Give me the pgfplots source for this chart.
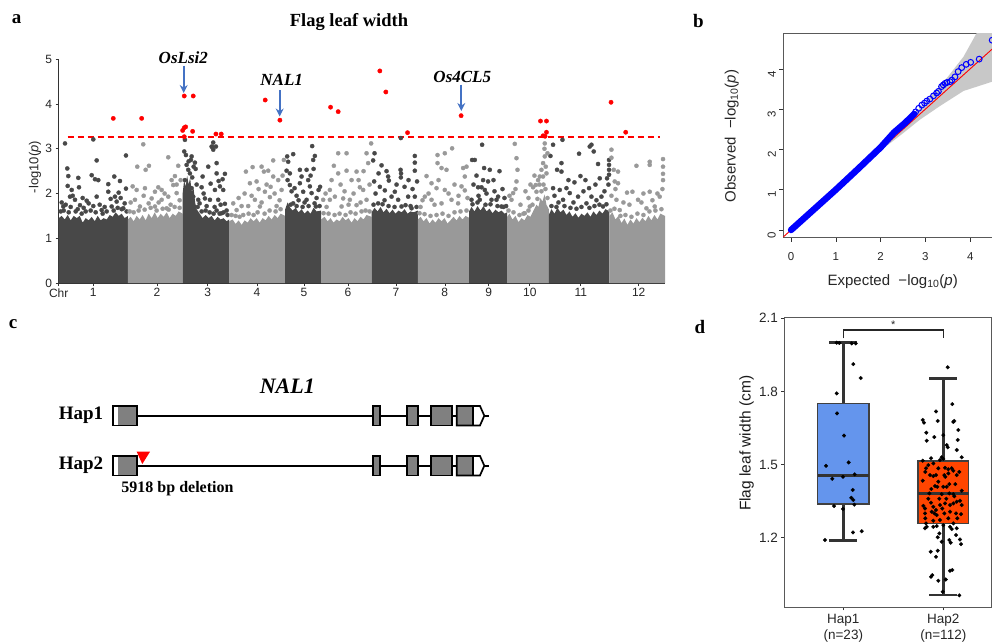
\documentclass[border=0pt]{standalone}
\usepackage{pgfplots}
\pgfplotsset{compat=1.18}
\usetikzlibrary{arrows.meta}
\usepackage{fontspec}
\setmainfont{Liberation Sans}
\newfontfamily\tnr{Liberation Serif}
\definecolor{dk}{RGB}{72,72,72}
\definecolor{lt}{RGB}{153,153,153}
\definecolor{arr}{RGB}{68,114,196}
\definecolor{hapblue}{RGB}{100,149,237}
\definecolor{haporange}{RGB}{255,69,0}
\definecolor{band}{RGB}{200,200,200}
\definecolor{exon}{RGB}{128,128,128}
\definecolor{sigred}{RGB}{255,0,0}

% one haplotype row of the gene model: #1 centre, #2 top, #3 bottom (pixel y)
\newcommand{\generow}[3]{%
    \draw[line width=1.8pt] (axis cs:137,#1) -- (axis cs:489,#1);
    \fill[white] (axis cs:113.3,#2) rectangle (axis cs:118.3,#3);
    \fill[exon] (axis cs:118.3,#2) rectangle (axis cs:137,#3);
    \draw[line width=1.7pt] (axis cs:113.3,#2) rectangle (axis cs:137,#3);
    \draw[line width=1.7pt, fill=exon] (axis cs:373.3,#2) rectangle (axis cs:380.3,#3);
    \draw[line width=1.7pt, fill=exon] (axis cs:407.3,#2) rectangle (axis cs:418.3,#3);
    \draw[line width=1.7pt, fill=exon] (axis cs:431,#2) rectangle (axis cs:451.7,#3);
    \fill[white] (axis cs:473.3,#2) -- (axis cs:480,#2) -- (axis cs:484.3,#1) -- (axis cs:480,#3) -- (axis cs:473.3,#3) -- cycle;
    \fill[exon] (axis cs:456.7,#2) rectangle (axis cs:473.3,#3);
    \draw[line width=1.7pt, line join=miter] (axis cs:456.7,#2) -- (axis cs:480,#2) -- (axis cs:484.3,#1) -- (axis cs:480,#3) -- (axis cs:456.7,#3) -- cycle;
    \draw[line width=1.7pt] (axis cs:473.3,#2) -- (axis cs:473.3,#3);
}

\pgfplotsset{
  dkdot/.style={only marks, mark=*, mark size=2.1pt, mark options={solid, fill=dk, draw=dk, line width=0.3pt}},
  ltdot/.style={only marks, mark=*, mark size=2.1pt, mark options={solid, fill=lt, draw=lt, line width=0.3pt}},
  whisk/.style={draw=black!80, line width=2.7pt},
}

\begin{document}
\begin{tikzpicture}
\useasboundingbox (0,0) rectangle (992pt,-643pt);

% ---------- a: Manhattan plot (x = cumulative position, 12 chromosomes)
\begin{axis}[at={(58.7pt,-283pt)}, anchor=south west, scale only axis,
    width=606.3pt, height=223.7pt,
    xmin=0, xmax=606.6, ymin=0, ymax=5, enlargelimits=false,
    axis x line*=bottom, axis y line*=left,
    axis line style={black!80, line width=0.6pt},
    tick align=outside, major tick length=3pt,
    tick style={black!80, line width=0.6pt},
    xtick={0,34.6,98.3,149,198.3,245.3,289.3,337.3,386.3,430.3,471.3,522.3,580.3},
    xticklabels={Chr,1,2,3,4,5,6,7,8,9,10,11,12},
    ytick={0,1,2,3,4,5},
    /pgf/number format/assume math mode=true,
    tick label style={font=\fontsize{12}{12}\selectfont, text=black!85},
    xticklabel style={yshift=1pt}]

  % dense lower mass, one block per chromosome
  \addplot[fill=dk, draw=none] coordinates {(0,0)(0,1.45)(3,1.5)(6,1.42)(9,1.52)(12,1.4)(15,1.5)(18,1.45)(21,1.5)(24,1.35)(27,1.45)(30,1.4)(33,1.48)(36,1.38)(39,1.5)(42,1.4)(45,1.45)(48,1.42)(51,1.52)(54,1.48)(57,1.58)(60,1.5)(63,1.55)(66,1.45)(69.3,1.5)(69.3,0)} -- cycle;
  \addplot[fill=lt, draw=none] coordinates {(69.3,0)(69.3,1.42)(72,1.48)(75,1.38)(78,1.5)(81,1.42)(84,1.52)(87,1.4)(90,1.55)(93,1.45)(96,1.58)(99,1.45)(102,1.55)(105,1.48)(108,1.58)(111,1.45)(114,1.55)(117,1.5)(120,1.6)(124,1.55)(124,0)} -- cycle;
  \addplot[fill=dk, draw=none] coordinates {(124,0)(124,2.0)(125.5,2.3)(127,2.15)(128.5,2.4)(130,2.2)(131.5,2.35)(133,2.05)(135,2.1)(136.5,1.8)(138,1.65)(141,1.55)(144,1.45)(147,1.52)(150,1.45)(153,1.5)(156,1.4)(159,1.48)(162,1.42)(165,1.45)(168,1.38)(170.6,1.42)(170.6,0)} -- cycle;
  \addplot[fill=lt, draw=none] coordinates {(170.6,0)(170.6,1.38)(174,1.42)(177,1.32)(180,1.4)(183,1.3)(186,1.4)(189,1.35)(192,1.45)(195,1.38)(198,1.45)(201,1.35)(204,1.45)(207,1.4)(210,1.5)(213,1.42)(216,1.52)(219,1.45)(222,1.55)(226.6,1.5)(226.6,0)} -- cycle;
  \addplot[fill=dk, draw=none] coordinates {(226.6,0)(226.6,1.65)(229,1.8)(231,1.7)(234,1.62)(237,1.68)(240,1.58)(243,1.65)(246,1.55)(249,1.62)(252,1.55)(255,1.68)(258,1.6)(262.6,1.62)(262.6,0)} -- cycle;
  \addplot[fill=lt, draw=none] coordinates {(262.6,0)(262.6,1.42)(266,1.48)(269,1.38)(272,1.45)(275,1.35)(278,1.42)(281,1.38)(284,1.48)(287,1.4)(290,1.45)(293,1.35)(296,1.45)(299,1.38)(302,1.48)(305,1.42)(308,1.52)(313,1.48)(313,0)} -- cycle;
  \addplot[fill=dk, draw=none] coordinates {(313,0)(313,1.58)(316,1.68)(319,1.6)(322,1.7)(325,1.58)(328,1.66)(331,1.56)(334,1.64)(337,1.55)(340,1.62)(343,1.58)(346,1.65)(349,1.55)(352,1.6)(355,1.58)(359.3,1.62)(359.3,0)} -- cycle;
  \addplot[fill=lt, draw=none] coordinates {(359.3,0)(359.3,1.42)(362,1.48)(365,1.38)(368,1.45)(371,1.33)(374,1.42)(377,1.35)(380,1.45)(383,1.38)(386,1.45)(389,1.33)(392,1.4)(395,1.48)(398,1.4)(401,1.5)(404,1.42)(407,1.5)(410.6,1.46)(410.6,0)} -- cycle;
  \addplot[fill=dk, draw=none] coordinates {(410.6,0)(410.6,1.6)(413,1.7)(416,1.6)(419,1.72)(422,1.62)(425,1.72)(428,1.6)(431,1.66)(434,1.56)(437,1.64)(440,1.58)(443,1.62)(446,1.55)(448.6,1.58)(448.6,0)} -- cycle;
  \addplot[fill=lt, draw=none] coordinates {(448.6,0)(448.6,1.48)(451,1.55)(454,1.42)(457,1.5)(460,1.36)(463,1.45)(466,1.4)(469,1.52)(472,1.48)(475,1.62)(478,1.75)(480,1.7)(482,1.9)(484,1.82)(486,1.98)(488,1.75)(490.3,1.65)(490.3,0)} -- cycle;
  \addplot[fill=dk, draw=none] coordinates {(490.3,0)(490.3,1.52)(493,1.65)(496,1.55)(499,1.68)(502,1.58)(505,1.64)(508,1.52)(511,1.6)(514,1.48)(517,1.56)(520,1.46)(523,1.55)(526,1.5)(529,1.58)(532,1.48)(535,1.6)(538,1.52)(541,1.62)(544,1.55)(547,1.65)(551,1.6)(551,0)} -- cycle;
  \addplot[fill=lt, draw=none] coordinates {(551,0)(551,1.5)(554,1.58)(557,1.42)(560,1.5)(563,1.34)(566,1.44)(569,1.3)(572,1.42)(575,1.33)(578,1.45)(581,1.36)(584,1.46)(587,1.38)(590,1.5)(593,1.4)(596,1.52)(599,1.42)(602,1.55)(606.6,1.5)(606.6,0)} -- cycle;

  % scattered SNPs, odd chromosomes
  \addplot[dkdot] coordinates {
    (6.3,3.12)(34.6,3.21)(38,2.74)(67.3,2.85)(8.6,2.56)(9.6,2.39)(19.6,2.35)(33,2.41)(36.3,2.32)(39.6,2.30)
    (55.6,2.38)(61.3,2.28)(9,2.17)(13,2.08)(20.3,2.14)(49.6,2.21)(67.3,2.11)(11.3,1.93)(16.3,1.86)(28,1.84)
    (38,1.93)(56.3,1.93)(49.6,2.04)(4.6,1.71)(21.3,1.74)(34.6,1.72)(64.6,1.67)(53,1.71)(43,1.63)
    (3,1.8)(7,1.75)(12,1.7)(25,1.68)(30,1.78)(41,1.75)(46,1.7)(58,1.82)(62,1.9)(66,1.78)(14,1.95)(24,1.9)(52,1.88)(60,2.02)
    (2,1.6)(5,1.62)(10,1.58)(17,1.6)(19,1.65)(23,1.55)(27,1.6)(32,1.62)(37,1.58)(44,1.55)(48,1.6)(55,1.62)(59,1.68)(63,1.65)(68,1.6)
    (126.3,3.2)(125.6,2.94)(127.3,2.86)(133,2.83)(132.3,2.75)(136.3,2.69)(128,2.64)(129.6,2.53)(131.3,2.45)(133.6,2.36)
    (126.3,2.30)(129,2.16)(133,2.12)(143,2.14)(149.6,2.60)(153,3.05)(154.6,2.98)(128,2.01)(134.6,1.93)(139.6,1.86)
    (146.3,1.89)(151.3,1.86)(154.6,3.14)(157.3,3.05)(153.6,3.04)(144,2.38)(158,2.68)(158,2.45)(166.3,2.44)(161.3,2.16)
    (156.3,2.08)(164.6,2.08)(159.6,1.86)(166.3,1.77)(163,1.56)(137,2.55)(135,2.6)(130,2.72)(138,2.2)(141,1.78)
    (148,1.72)(156,1.7)(162,1.75)(168,1.62)(145,2.0)(152,2.22)(160,2.28)(164,2.32)
    (139,1.7)(143,1.6)(147,1.62)(151,1.58)(155,1.55)(158,1.62)(161,1.55)(165,1.58)(169,1.52)
    (228.6,2.83)(234.6,2.88)(229.6,2.71)(228,2.51)(231.3,2.45)(231.3,2.19)(241.3,2.53)(248,2.53)(254.6,2.75)(256.3,2.84)
    (253.6,3.06)(243,2.38)(249.6,2.30)(241.3,2.23)(251.3,2.16)(253,2.01)(244.6,2.04)(257.3,1.71)(234.6,1.78)(248,1.86)
    (261.5,2.15)(260,2.08)(229,2.3)(233,2.05)(238,1.95)(252,2.4)(255,2.55)(258,1.9)(236,2.12)(246,1.8)(240,1.85)
    (232,1.75)(238,1.72)(244,1.7)(250,1.72)(256,1.78)(261,1.72)
    (314.6,2.74)(323,2.63)(329.6,2.38)(330.3,2.29)(342,2.53)(342.3,2.36)(356.3,2.84)(356.3,2.69)(356.3,2.51)(358.5,2.27)
    (342.3,3.24)(315.6,2.27)(321.3,2.15)(326.3,2.07)(336.3,2.04)(333,1.93)(339.6,1.86)(349.6,1.93)(356.3,1.93)(319.6,1.78)
    (343,1.71)(353,1.67)(317,2.0)(320,2.45)(326,1.85)(346,2.15)(350,2.3)(354,2.1)(338,2.2)(342.5,2.45)(328,2.5)(316,2.9)
    (315,1.75)(324,1.76)(330,1.72)(336,1.7)(347,1.74)(352,1.72)(358,1.7)
    (413.6,2.75)(416.3,2.75)(423.6,3.09)(425.6,2.57)(431.3,2.53)(424.6,2.30)(429.6,2.27)(419.6,2.14)(423,2.14)(426.3,2.08)
    (439.6,1.93)(447.6,1.72)(413,1.86)(421.3,1.86)(433,1.86)(438,1.86)(443,1.71)(415,2.2)(418,2.4)(428,2.0)
    (435,2.3)(441,2.5)(444,2.1)(420,1.95)(436,2.05)(446,1.9)
    (414,1.76)(419,1.8)(427,1.75)(432,1.76)(439,1.72)(445,1.7)
    (494.6,3.09)(504,3.20)(492,2.84)(503,2.68)(498.6,2.53)(503,2.49)(494.6,2.12)(501.3,2.08)(508,2.12)(520.6,2.89)
    (531.3,3.05)(533,3.09)(535.3,2.94)(539.6,2.66)(522,2.39)(530.6,2.12)(541.3,2.34)(550.6,2.64)(550.6,2.53)(550.6,2.42)
    (548.6,2.34)(511.3,2.01)(519.6,1.93)(533,1.93)(543,1.93)(504.6,1.86)(528,1.78)(544.6,1.71)(496,1.95)(510,2.3)
    (515,1.8)(525,2.05)(537,2.2)(546,2.05)(500,1.8)(516,2.25)(527,2.3)(538,1.85)(550,2.2)(550.6,2.75)
    (493,1.72)(498,1.7)(506,1.72)(512,1.68)(518,1.66)(523,1.7)(531,1.68)(536,1.72)(541,1.75)(548,1.76)};

  % scattered SNPs, even chromosomes
  \addplot[ltdot] coordinates {
    (84.6,3.1)(78.6,2.6)(87,2.53)(90.3,2.62)(109.6,2.81)(119.6,2.62)(74,2.16)(78,2.08)(86.3,2.12)(96.3,2.04)
    (99.6,2.14)(103,2.08)(113,2.30)(116.3,2.39)(114.6,2.19)(76.3,1.86)(93,1.89)(103,1.86)(109.6,1.93)(118,2.01)
    (81.3,1.71)(96.3,1.71)(108,1.67)(72,1.8)(85,1.95)(90,1.78)(100,1.8)(106,2.0)(112,1.75)(121,1.85)(118,2.2)(122,2.3)
    (71,1.6)(75,1.58)(80,1.62)(86,1.64)(92,1.68)(98,1.62)(104,1.66)(110,1.64)(116,1.7)(121,1.68)
    (174.6,1.78)(183,1.72)(187.3,2.49)(194,2.59)(191.3,2.23)(198,2.27)(203,2.60)(205.3,2.49)(209.6,2.51)(214.6,2.38)
    (219.6,2.30)(223,2.08)(214.6,2.74)(225.3,2.75)(211.3,1.92)(206.3,2.04)(196.3,1.86)(201.3,1.71)(218,1.72)(189.6,1.72)
    (178,1.63)(184.6,1.52)(180,1.9)(186,2.0)(193,1.95)(200,2.1)(208,2.2)(212,2.15)(216,2.0)(221,1.85)(224,2.4)(203,1.8)
    (173,1.52)(177,1.5)(181,1.48)(190,1.55)(195,1.52)(199,1.58)(206,1.55)(211,1.62)(217,1.6)(222,1.65)
    (279.6,2.90)(275.3,2.62)(279.6,2.45)(288,2.51)(293,2.30)(298,2.49)(308,2.90)(309.6,2.68)(301.3,2.14)(304.6,2.08)
    (271.3,2.08)(276.3,1.93)(284.6,1.89)(291.3,1.86)(271.3,1.86)(264.6,1.86)(283,1.71)(298,1.74)(308,1.86)(288,2.9)
    (312.6,3.12)(267,2.0)(273,2.3)(282,2.2)(286,2.05)(295,2.0)(300,2.3)(305,2.5)(311,2.2)(268,1.7)(290,1.75)(302,1.8)
    (265,1.56)(270,1.55)(276,1.52)(281,1.55)(287,1.52)(292,1.58)(297,1.55)(303,1.6)(307,1.62)(311,1.6)
    (368,2.39)(379,2.86)(386.3,2.90)(393.6,3.01)(379,2.68)(383,2.57)(388,2.53)(373,2.23)(378,2.12)(386.3,2.08)
    (404.6,2.57)(406.3,2.38)(403,2.16)(406.3,2.07)(366.3,1.93)(373,1.86)(383,1.78)(393,1.86)(399.6,1.78)(362,1.7)
    (370,2.0)(376,1.75)(390,2.0)(396,2.2)(400,1.95)(409,1.9)(364,1.85)(380,2.3)(408,2.6)
    (361,1.56)(366,1.54)(372,1.5)(378,1.52)(384,1.55)(390,1.5)(396,1.58)(402,1.6)(408,1.62)
    (486.3,2.83)(484.6,2.68)(483,2.53)(481.3,2.38)(479.6,2.30)(477.3,2.19)(474.6,2.14)(478,2.04)(471.3,1.71)(466.3,1.56)
    (484.6,2.38)(487.3,2.60)(456.3,3.11)(458,2.79)(459,2.53)(458,2.27)(454.6,2.01)(453,1.86)(486.3,3.12)(489,2.9)
    (488,2.45)(476,2.4)(481,2.2)(485,2.2)(470,1.9)(462,1.75)(451,1.95)(457,2.1)(467,2.05)(472,2.2)(486,3.0)
    (450,1.62)(455,1.58)(461,1.52)(465,1.55)(470,1.62)(474,1.75)(479,1.88)(483,2.05)(487,2.1)(489,1.9)
    (553,2.98)(555.3,2.53)(559.6,2.49)(556.3,2.27)(559.6,2.23)(578,2.62)(591.3,2.71)(591.3,2.64)(604.6,2.77)(604.6,2.60)
    (604.6,2.44)(604.6,2.30)(568.6,2.02)(574,2.04)(591.3,2.04)(558,1.86)(579.6,1.86)(588,1.67)(596.3,1.71)(601.3,1.93)
    (561.3,1.63)(553,2.8)(557,2.1)(565,1.8)(571,1.75)(583,1.8)(594,1.85)(599,2.0)(604,2.1)(553,1.95)(585,2.0)
    (552,1.62)(556,1.66)(562,1.5)(567,1.52)(573,1.48)(579,1.55)(585,1.52)(591,1.6)(597,1.62)(603,1.65)};

  % threshold
  \addplot[color=sigred, solid, line width=1.5pt, dash pattern=on 6pt off 4pt] coordinates {(9,3.26)(602,3.26)};

  % significant SNPs
  \addplot[only marks, mark=*, mark size=2.2pt, mark options={solid, fill=sigred, draw=sigred, line width=0.3pt}] coordinates {
    (54.6,3.68)(83,3.68)(125.6,4.18)(134.6,4.18)(124,3.41)(125.6,3.47)(127,3.49)(134,3.39)(125.6,3.27)
    (157.3,3.33)(162.6,3.33)(206.6,4.09)(221.3,3.64)(272,3.93)(279.6,3.83)(321.3,4.74)(327.3,4.27)(349,3.36)
    (402.6,3.74)(482,3.62)(488,3.62)(488,3.37)(484.6,3.29)(486.6,3.28)(552.6,4.04)(567.3,3.37)};
\end{axis}

% ---------- b: QQ plot
\begin{axis}[at={(783.3pt,-237.7pt)}, anchor=south west, scale only axis,
    width=216.7pt, height=204.4pt,
    xmin=-0.172, xmax=4.665, ymin=-0.191, ymax=4.881, enlargelimits=false,
    axis line style={black!65, line width=0.8pt},
    xtick pos=bottom, ytick pos=left,
    tick align=outside, major tick length=4pt,
    tick style={black!80, line width=0.6pt},
    xtick={0,1,2,3,4}, ytick={0,1,2,3,4},
    /pgf/number format/assume math mode=true,
    tick label style={font=\fontsize{11.5}{11.5}\selectfont, text=black!85},
    xticklabel style={yshift=-7pt},
    yticklabel style={rotate=90, anchor=south, xshift=-5pt}]
  \addplot[fill=band, draw=none] coordinates {(1.5,1.5)(2,2.02)(2.5,2.58)(3,3.18)(3.5,3.8)(3.85,4.3)(4.14,4.88)(4.7,5.9)
    (4.7,3.72)(4.49,3.68)(3.85,3.45)(3.33,3.08)(2.88,2.74)(2.5,2.4)(2,1.97)} -- cycle;
  \addplot[draw=sigred, line width=0.9pt] coordinates {(-0.2,-0.2)(4.7,4.7)};
  \addplot[draw=blue, line width=6.5pt, line cap=round, line join=round] coordinates {(0,0)(0.5,0.5)(1,1.0)(1.5,1.52)(2,2.05)(2.3,2.42)(2.55,2.66)(2.75,2.88)};
  \addplot[only marks, mark=o, mark size=2.9pt, mark options={solid, draw=blue, line width=1pt}] coordinates {
    (2.78,2.93)(2.85,3.02)(2.92,3.1)(2.98,3.15)(3.03,3.2)(3.1,3.25)(3.18,3.33)(3.25,3.4)(3.29,3.44)(3.36,3.56)
    (3.40,3.60)(3.44,3.64)(3.48,3.66)(3.55,3.68)(3.59,3.72)(3.66,3.80)(3.73,3.93)(3.81,4.03)(3.91,4.11)(4.01,4.16)
    (4.20,4.24)(4.49,4.71)};
\end{axis}

% ---------- d: box plot (whiskers, boxes and medians from the five-number summaries)
\begin{axis}[at={(784.3pt,-607.3pt)}, anchor=south west, scale only axis,
    width=207pt, height=290pt,
    xmin=0.41, xmax=2.48, ymin=0.915, ymax=2.104, enlargelimits=false,
    axis line style={black!65, line width=0.8pt},
    xtick pos=bottom, ytick pos=left,
    tick align=outside, major tick length=3pt,
    tick style={black!80, line width=0.7pt},
    xtick={1,2}, xticklabels={{Hap1\\(n=23)},{Hap2\\(n=112)}},
    ytick={1.2,1.5,1.8,2.1}, yticklabels={1.2,1.5,1.8,2.1},
    xticklabel style={align=center, font=\fontsize{13.5}{16.5}\selectfont, text=black!85},
    yticklabel style={font=\fontsize{13.5}{13.5}\selectfont, text=black!85},
    clip=false]
  % Hap1
  \addplot[whisk] coordinates {(1,1.19)(1,2.0)};
  \addplot[fill=hapblue, draw=black!75, line width=1.6pt] coordinates {(0.743,1.338)(1.257,1.338)(1.257,1.750)(0.743,1.750)} -- cycle;
  \addplot[whisk, line width=3pt] coordinates {(0.743,1.454)(1.257,1.454)};
  \addplot[whisk] coordinates {(0.86,2.0)(1.14,2.0)};
  \addplot[whisk] coordinates {(0.86,1.19)(1.14,1.19)};
  % Hap2
  \addplot[whisk] coordinates {(2,0.966)(2,1.852)};
  \addplot[fill=haporange, draw=black!75, line width=1.6pt] coordinates {(1.747,1.259)(2.253,1.259)(2.253,1.515)(1.747,1.515)} -- cycle;
  \addplot[whisk, line width=3pt] coordinates {(1.747,1.383)(2.253,1.383)};
  \addplot[whisk] coordinates {(1.86,1.852)(2.14,1.852)};
  \addplot[whisk] coordinates {(1.86,0.966)(2.14,0.966)};

  \addplot[only marks, mark=*, mark size=1.9pt, mark options={solid, fill=black, draw=black, line width=0.2pt}] coordinates {
    (0.934,2.000)(0.96,1.999)(1.084,1.997)(1.124,1.997)(1.100,1.912)(1.174,1.855)(0.934,1.792)(0.937,1.710)
    (1.007,1.619)(0.827,1.495)(1.054,1.509)(0.890,1.442)(0.997,1.450)(1.114,1.460)(1.094,1.396)(1.080,1.364)
    (1.100,1.355)(0.907,1.330)(0.997,1.318)(1.110,1.336)(1.097,1.222)(1.184,1.227)(0.817,1.191)};
  \addplot[only marks, mark=*, mark size=1.9pt, mark options={solid, fill=black, draw=black, line width=0.2pt}] coordinates {
    (2.044,1.899)(2.090,1.748)(1.927,1.718)(1.794,1.683)(1.807,1.672)(1.944,1.679)(2.110,1.679)(2.100,1.675)
    (2.150,1.642)(1.830,1.631)(2.000,1.621)(1.834,1.598)(1.910,1.613)(2.144,1.601)(2.034,1.580)(2.044,1.571)
    (2.134,1.560)(1.794,1.516)(1.877,1.526)(1.984,1.530)(2.000,1.523)(2.184,1.530)(1.967,1.519)(1.850,1.498)
    (1.900,1.505)(1.950,1.485)(2.017,1.487)(2.050,1.481)(2.084,1.485)(2.100,1.475)(1.827,1.485)(1.867,1.457)
    (1.900,1.453)(1.927,1.457)(2.010,1.457)(2.050,1.464)(2.134,1.457)(1.794,1.434)(1.917,1.412)(1.940,1.409)
    (2.000,1.409)(2.034,1.409)(2.060,1.382)(2.100,1.379)(1.860,1.382)(1.984,1.379)(2.184,1.393)(1.800,1.331)
    (1.817,1.320)(1.877,1.344)(1.900,1.327)(1.927,1.314)(1.967,1.334)(2.017,1.341)(2.067,1.334)(2.100,1.341)
    (2.134,1.348)(2.167,1.352)(2.184,1.334)(1.817,1.300)(1.884,1.307)(1.910,1.300)(1.934,1.293)(2.010,1.300)
    (2.067,1.307)(2.127,1.300)(2.177,1.297)(1.967,1.273)(1.827,1.259)(1.834,1.245)(1.817,1.239)(1.900,1.245)
    (1.934,1.248)(2.000,1.252)(2.067,1.245)(2.084,1.236)(2.134,1.239)(2.100,1.259)(1.960,1.218)(1.944,1.202)
    (1.984,1.184)(2.060,1.191)(2.074,1.180)(2.127,1.211)(2.167,1.193)(2.177,1.174)(1.874,1.143)(1.944,1.147)
    (1.927,1.122)(1.890,1.047)(1.877,1.040)(2.067,1.065)(2.090,1.068)(1.950,1.024)(2.024,1.029)(1.994,0.979)
    (2.160,0.964)(1.82,1.47)(1.88,1.40)(1.95,1.43)(2.02,1.45)(2.12,1.42)(2.16,1.47)(1.85,1.36)(1.96,1.36)
    (2.03,1.36)(2.11,1.37)(1.82,1.28)(1.90,1.27)(2.05,1.28)(2.14,1.28)(1.99,1.32)(2.06,1.42)};
  \addplot[draw=black!85, line width=1.3pt] coordinates {(1,2.018)(1,2.052)(2,2.052)(2,2.018)};
  \node[font=\fontsize{11}{11}\selectfont, text=black!85] at (axis cs:1.5,2.075) {*};
\end{axis}

% ---------- overlay in pixel coordinates: titles, letters, annotations, panel c
\begin{axis}[at={(0pt,0pt)}, anchor=north west, scale only axis,
    width=992pt, height=643pt, xmin=0, xmax=992, ymin=0, ymax=643,
    y dir=reverse, hide axis, clip=false]
  \node[font=\tnr\bfseries\fontsize{19}{19}\selectfont] at (axis cs:16.7,19.3) {a};
  \node[font=\tnr\bfseries\fontsize{19}{19}\selectfont] at (axis cs:698.3,20.7) {b};
  \node[font=\tnr\bfseries\fontsize{19}{19}\selectfont] at (axis cs:13,324) {c};
  \node[font=\tnr\bfseries\fontsize{19}{19}\selectfont] at (axis cs:700,326.7) {d};
  \node[font=\tnr\bfseries\fontsize{18.5}{18.5}\selectfont] at (axis cs:349,22.3) {Flag leaf width};

  % a: axis label and gene arrows
  \node[rotate=90, font=\fontsize{13}{13}\selectfont, text=black!85] at (axis cs:35,167) {-log10(\textit{p})};
  \node[font=\tnr\bfseries\itshape\fontsize{17}{17}\selectfont] at (axis cs:183.3,57.3) {OsLsi2};
  \node[font=\tnr\bfseries\itshape\fontsize{17}{17}\selectfont] at (axis cs:281.7,80) {NAL1};
  \node[font=\tnr\bfseries\itshape\fontsize{17}{17}\selectfont] at (axis cs:462.3,77.3) {Os4CL5};
  \draw[arr, line width=2pt, -{Stealth[length=8pt, width=8pt]}] (axis cs:183.7,65.7) -- (axis cs:183.7,93);
  \draw[arr, line width=2pt, -{Stealth[length=8pt, width=8pt]}] (axis cs:279.7,90) -- (axis cs:279.7,116.5);
  \draw[arr, line width=2pt, -{Stealth[length=8pt, width=8pt]}] (axis cs:461.3,84.7) -- (axis cs:461.3,111);

  % b: axis labels
  \node[rotate=90, font=\fontsize{15}{15}\selectfont, text=black!85] at (axis cs:731.7,136) {Observed\ \ −log\textsubscript{10}(\textit{p})};
  \node[font=\fontsize{15}{15}\selectfont, text=black!85] at (axis cs:892.7,281.7) {Expected\ \ −log\textsubscript{10}(\textit{p})};

  % d: axis label
  \node[rotate=90, font=\fontsize{15.5}{15.5}\selectfont, text=black!90] at (axis cs:746.7,443.3) {Flag leaf width (cm)};

  % c: NAL1 gene structure
  \node[font=\tnr\bfseries\itshape\fontsize{22}{22}\selectfont] at (axis cs:287.3,386) {NAL1};
  \node[font=\tnr\bfseries\fontsize{19}{19}\selectfont] at (axis cs:81,415.7) {Hap1};
  \node[font=\tnr\bfseries\fontsize{19}{19}\selectfont] at (axis cs:81,465.7) {Hap2};
  \generow{415.7}{406}{425.4}
  \generow{465.7}{456}{475.4}
  \fill[sigred] (axis cs:136.7,451.7) -- (axis cs:150,451.7) -- (axis cs:142.3,464) -- cycle;
  \node[font=\tnr\bfseries\fontsize{16}{16}\selectfont] at (axis cs:177.5,488.3) {5918 bp deletion};
\end{axis}
\end{tikzpicture}
\end{document}
